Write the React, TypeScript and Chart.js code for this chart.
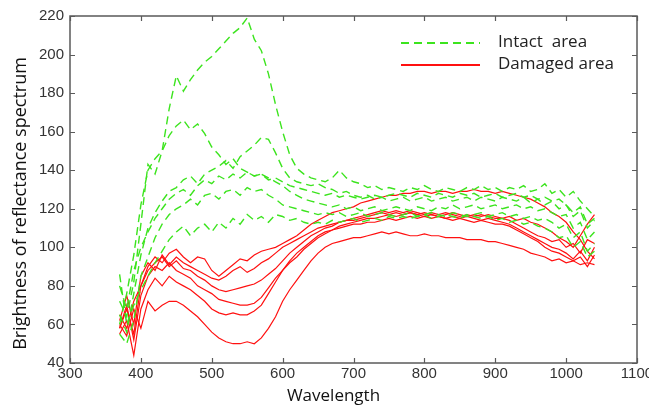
import React, { useEffect, useRef } from "react";
import { Chart, registerables } from "chart.js";

Chart.register(...registerables);

// Wavelength samples (nm)
const wavelengths = [
  370, 380, 390, 400, 410, 420, 430, 440, 450, 460,
  470, 480, 490, 500, 510, 520, 530, 540, 550, 560,
  570, 580, 590, 600, 610, 620, 630, 640, 650, 660,
  670, 680, 690, 700, 710, 720, 730, 740, 750, 760,
  770, 780, 790, 800, 810, 820, 830, 840, 850, 860,
  870, 880, 890, 900, 910, 920, 930, 940, 950, 960,
  970, 980, 990, 1000, 1010, 1020, 1030, 1040,
];

// Intact area (green dashed)
const intact1 = [
  72, 64, 82, 112, 143, 138, 150, 172, 189, 181,
  187, 192, 196, 199, 203, 207, 211, 214, 219, 208,
  202, 190, 174, 160, 148, 141, 138, 136, 135, 134,
  136, 140, 136, 134, 133, 131, 132, 130, 131, 130,
  129, 131, 130, 132, 130, 129, 131, 130, 129, 131,
  130, 132, 130, 131, 129, 131, 130, 132, 129, 130,
  133, 128, 130, 126, 129, 124, 120, 116,
];
const intact2 = [
  60, 76, 96, 122, 140, 146, 150, 158, 163, 166,
  161, 164, 159, 152, 148, 143, 146, 141, 139, 137,
  138, 135, 136, 134, 132, 131, 130, 129, 128, 127,
  128, 126, 127, 126, 125, 126, 127, 126, 127, 128,
  127, 126, 128, 127, 126, 128, 127, 126, 128, 127,
  128, 126, 127, 128, 126, 127, 128, 126, 127, 125,
  126, 124, 125, 122, 118, 121, 112, 115,
];
const intact3 = [
  65, 56, 76, 96, 110, 118, 124, 129, 131, 135,
  137, 133, 138, 140, 142, 145, 141, 147, 150, 153,
  157, 156, 149, 141, 136, 134, 133, 132, 133, 131,
  130, 128, 129, 127, 126, 127, 125, 126, 124, 125,
  126, 124, 125, 126, 124, 125, 126, 124, 125, 126,
  124, 126, 125, 124, 126, 125, 124, 126, 123, 125,
  122, 124, 120, 122, 116, 119, 110, 114,
];
const intact4 = [
  80, 68, 88, 100, 108, 115, 120, 125, 128, 130,
  127, 132, 135, 133, 137, 135, 138, 136, 139, 137,
  138, 136, 134, 132, 129, 127, 125, 124, 123, 122,
  121, 122, 120, 121, 119, 120, 121, 119, 120, 121,
  120, 119, 121, 120, 119, 121, 120, 122, 120, 121,
  122, 120, 121, 122, 120, 121, 122, 120, 121, 119,
  120, 118, 116, 117, 110, 113, 104, 108,
];
const intact5 = [
  55, 50, 62, 85, 95, 105, 112, 117, 120, 122,
  125, 122, 127, 128, 125, 129, 130, 127, 131, 129,
  130, 127, 125, 122, 121, 120, 119, 118, 117, 118,
  117, 118, 116, 117, 118, 116, 117, 118, 117, 116,
  117, 118, 116, 117, 118, 117, 116, 118, 117, 116,
  117, 118, 116, 117, 118, 116, 117, 115, 116, 114,
  115, 113, 110, 112, 105, 108, 98, 102,
];
const intact6 = [
  86, 60, 70, 78, 85, 92, 98, 104, 108, 111,
  106, 110, 112, 108, 113, 110, 115, 112, 117, 114,
  116, 113, 117, 116, 114, 115, 113, 112, 113, 112,
  114, 113, 114, 115, 113, 114, 115, 114, 116, 115,
  116, 115, 116, 117, 115, 116, 117, 116, 115, 117,
  116, 115, 116, 114, 115, 113, 114, 112, 113, 111,
  110, 108, 105, 106, 100, 103, 95, 98,
];

// Damaged area (red solid)
const damaged1 = [
  60, 54, 68, 58, 72, 67, 70, 72, 72, 70,
  67, 64, 60, 56, 53, 51, 50, 50, 51, 50,
  53, 58, 64, 72, 78, 83, 88, 93, 97, 100,
  102, 103, 104, 105, 105, 106, 107, 108, 107, 108,
  107, 106, 106, 107, 106, 106, 105, 105, 105, 104,
  104, 104, 103, 103, 102, 101, 100, 99, 97, 96,
  95, 93, 94, 92, 93, 91, 92, 91,
];
const damaged2 = [
  55, 62, 44, 68, 78, 84, 80, 85, 82, 80,
  78, 75, 72, 68, 66, 65, 66, 65, 65, 67,
  70, 76, 82, 88, 92, 95, 99, 102, 105, 107,
  109, 110, 111, 112, 112, 113, 113, 114, 115, 114,
  115, 116, 115, 116, 115, 116, 115, 114, 115, 114,
  113, 114, 113, 112, 112, 111, 109, 107, 105, 103,
  100, 98, 97, 95, 93, 95, 90, 96,
];
const damaged3 = [
  58, 70, 52, 75, 85, 90, 88, 92, 88, 86,
  84, 80, 78, 76, 73, 72, 71, 70, 70, 71,
  74, 79, 84, 88, 93, 97, 100, 103, 106, 108,
  109, 111, 112, 113, 114, 115, 115, 116, 117, 116,
  117, 118, 117, 116, 117, 116, 115, 116, 115, 116,
  115, 114, 115, 114, 113, 112, 110, 108, 106, 104,
  102, 100, 99, 97, 94, 98, 93, 100,
];
const damaged4 = [
  65, 58, 72, 80, 88, 92, 95, 90, 93, 89,
  88, 85, 83, 80, 78, 77, 78, 79, 80, 81,
  83, 86, 89, 93, 97, 100, 103, 106, 108, 110,
  111, 113, 114, 115, 116, 117, 118, 119, 118, 119,
  118, 119, 118, 117, 118, 117, 118, 117, 116, 117,
  116, 117, 116, 115, 115, 114, 112, 110, 108, 106,
  105, 103, 104, 100, 102, 97, 104, 102,
];
const damaged5 = [
  62, 75, 60, 85, 92, 88, 96, 91, 95, 92,
  90, 88, 86, 84, 83, 85, 88, 90, 87, 89,
  92, 94, 97, 100, 102, 104, 106, 108, 110, 111,
  112, 113, 114, 114, 115, 116, 117, 118, 117, 118,
  117, 118, 117, 118, 117, 116, 117, 118, 117, 116,
  117, 116, 117, 116, 115, 116, 114, 115, 113, 112,
  110, 108, 105, 103, 100, 106, 112, 117,
];
const damaged6 = [
  58, 68, 55, 80, 90, 95, 92, 97, 99, 95,
  92, 95, 94, 88, 85, 88, 91, 94, 93, 96,
  98, 99, 100, 102, 104, 106, 109, 112, 114, 116,
  118, 119, 120, 121, 123, 124, 125, 126, 127, 127,
  128, 128, 129, 129, 128, 129, 129, 128, 129, 129,
  130, 129, 129, 128, 129, 128, 127, 126, 125, 123,
  121, 118, 116, 113, 108, 104, 98, 94,
];

const intactSeries = [intact1, intact2, intact3, intact4, intact5, intact6];
const damagedSeries = [damaged1, damaged2, damaged3, damaged4, damaged5, damaged6];

const legendLabels = ["Intact  area", "Damaged area"];
const xTitle = "Wavelength";
const yTitle = "Brightness of reflectance spectrum";

const GREEN = "rgb(60,228,30)";
const RED = "rgb(255,16,16)";

const toPoints = (vals: number[]) => vals.map((v, i) => ({ x: wavelengths[i], y: v }));

const framePlugin = {
  id: "frame",
  afterDraw(chart: any) {
    const { ctx, chartArea: a, scales } = chart;
    const xs = scales.x;
    const ys = scales.y;
    ctx.save();
    // box
    ctx.strokeStyle = "#5a5a5a";
    ctx.lineWidth = 1.5;
    ctx.setLineDash([]);
    ctx.strokeRect(a.left, a.top, a.right - a.left, a.bottom - a.top);
    // inward ticks
    ctx.lineWidth = 1.2;
    ctx.beginPath();
    const tl = 5;
    xs.ticks.forEach((t: any) => {
      const px = Math.round(xs.getPixelForValue(t.value)) + 0.5;
      ctx.moveTo(px, a.bottom);
      ctx.lineTo(px, a.bottom - tl);
      ctx.moveTo(px, a.top);
      ctx.lineTo(px, a.top + tl);
    });
    ys.ticks.forEach((t: any) => {
      const py = Math.round(ys.getPixelForValue(t.value)) + 0.5;
      ctx.moveTo(a.left, py);
      ctx.lineTo(a.left + tl, py);
      ctx.moveTo(a.right, py);
      ctx.lineTo(a.right - tl, py);
    });
    ctx.stroke();

    // legend (inside plot, top right)
    const ds = chart.data.datasets;
    const items = [ds[0], ds[6]];
    const lx0 = a.left + 331;
    const lx1 = a.left + 410;
    const tx = a.left + 428;
    const ly = [a.top + 27, a.top + 49];
    ctx.font = "17px 'Open Sans'";
    ctx.textBaseline = "middle";
    ctx.textAlign = "left";
    items.forEach((d: any, i: number) => {
      ctx.strokeStyle = d.borderColor;
      ctx.lineWidth = 1.8;
      ctx.setLineDash(d.borderDash || []);
      ctx.beginPath();
      ctx.moveTo(lx0, ly[i]);
      ctx.lineTo(lx1, ly[i]);
      ctx.stroke();
      ctx.setLineDash([]);
      ctx.fillStyle = "#222";
      ctx.fillText(legendLabels[i], tx, ly[i] - 1);
    });

    // axis titles
    ctx.fillStyle = "#111";
    ctx.font = "17px 'Open Sans'";
    ctx.textAlign = "center";
    ctx.textBaseline = "middle";
    ctx.fillText(xTitle, (a.left + a.right) / 2 - 20, a.bottom + 33);
    ctx.save();
    ctx.translate(21, (a.top + a.bottom) / 2 + 14);
    ctx.rotate(-Math.PI / 2);
    ctx.font = "18px 'Open Sans'";
    ctx.fillText(yTitle, 0, 0);
    ctx.restore();
    ctx.restore();
  },
};

export default function App() {
  const canvasRef = useRef<HTMLCanvasElement | null>(null);

  useEffect(() => {
    const canvas = canvasRef.current;
    if (!canvas) return;
    const datasets: any[] = [];
    intactSeries.forEach((s, i) =>
      datasets.push({
        label: i === 0 ? legendLabels[0] : `${legendLabels[0]} ${i + 1}`,
        data: toPoints(s),
        borderColor: GREEN,
        borderWidth: 1.4,
        borderDash: [8, 5],
        pointRadius: 0,
        tension: 0,
        fill: false,
      })
    );
    damagedSeries.forEach((s, i) =>
      datasets.push({
        label: i === 0 ? legendLabels[1] : `${legendLabels[1]} ${i + 1}`,
        data: toPoints(s),
        borderColor: RED,
        borderWidth: 1.2,
        pointRadius: 0,
        tension: 0,
        fill: false,
      })
    );

    const chart = new Chart(canvas, {
      type: "line",
      data: { datasets },
      plugins: [framePlugin],
      options: {
        animation: false,
        responsive: true,
        maintainAspectRatio: false,
        layout: { padding: { left: 0, top: 16, right: 12, bottom: 0 } },
        plugins: {
          legend: { display: false },
          tooltip: { enabled: false },
          title: { display: false },
        },
        scales: {
          x: {
            type: "linear",
            min: 300,
            max: 1100,
            grid: { display: false, drawTicks: false },
            border: { display: false },
            ticks: {
              stepSize: 100,
              padding: 2,
              color: "#333",
              font: { family: "'Liberation Sans', Arial", size: 15 },
              maxRotation: 0,
              autoSkip: false,
              callback: (v: any) => String(v),
            },
            afterFit: (scale: any) => {
              scale.height = 44;
              scale.paddingRight = 0;
              scale.paddingLeft = 0;
            },
          },
          y: {
            type: "linear",
            min: 40,
            max: 220,
            grid: { display: false, drawTicks: false },
            border: { display: false },
            ticks: {
              stepSize: 20,
              padding: 6,
              color: "#333",
              font: { family: "'Liberation Sans', Arial", size: 15 },
              autoSkip: false,
              callback: (v: any) => String(v),
            },
            afterFit: (scale: any) => {
              scale.width = 70;
              scale.paddingTop = 0;
              scale.paddingBottom = 0;
            },
          },
        },
      },
    });
    return () => chart.destroy();
  }, []);

  return (
    <div style={{ position: "fixed", left: 0, top: 0, width: 649, height: 407, background: "#fff" }}>
      <canvas ref={canvasRef} />
    </div>
  );
}
